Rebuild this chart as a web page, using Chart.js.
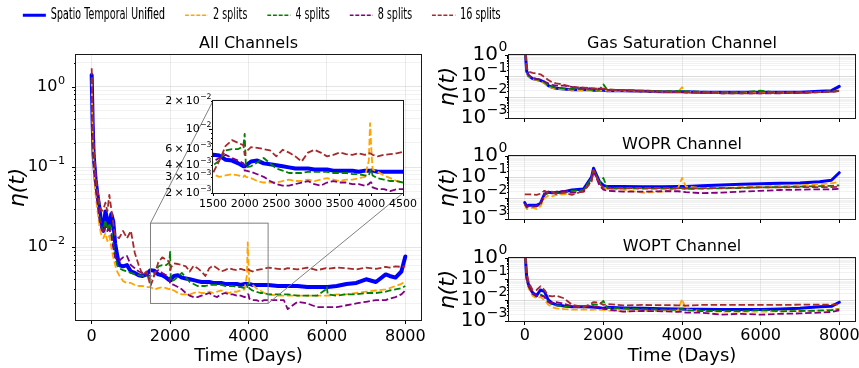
<!DOCTYPE html>
<html>
<head>
<meta charset="utf-8">
<script src="https://cdn.jsdelivr.net/npm/chart.js@4.4.1/dist/chart.umd.min.js"></script>
<style>
  html, body { margin: 0; padding: 0; background: #fff; }
  body { position: relative; width: 859px; height: 368px; overflow: hidden; }
  canvas { position: absolute; }
  #legend { transform: scaleX(0.6); transform-origin: 0 0; }
</style>
</head>
<body>
<canvas id="legend"></canvas>
<canvas id="main"></canvas>
<canvas id="gas"></canvas>
<canvas id="wopr"></canvas>
<canvas id="wopt"></canvas>
<canvas id="inset"></canvas>
<script>
// ---- データ ----
const seriesNames = ['Spatio Temporal Unified', '2 splits', '4 splits', '8 splits', '16 splits'];
const seriesColors = ['#0000ff', '#ffa500', '#008000', '#800080', '#a52a2a'];

const xTickDays = [0, 2000, 4000, 6000, 8000];
const insetXTicks = [1500, 2000, 2500, 3000, 3500, 4000, 4500];
const mainYLabels = [1, 0.1, 0.01];
const insetYLabels = [0.02, 0.01, 0.006, 0.004, 0.003, 0.002];
const channelYLabels = [1, 0.1, 0.01, 0.001];
const zoomDays = [1500, 4500];
const zoomEta = [0.002, 0.02];

// All Channels
const mainDays = [0, 25, 50, 100, 150, 200, 250, 300, 350, 400, 450, 500, 550, 600, 650, 700,
  800, 900, 1000, 1100, 1200, 1300, 1400, 1500, 1600, 1700, 1800, 1900, 1980, 2000, 2020,
  2100, 2200, 2300, 2400, 2500, 2600, 2700, 2800, 2900, 3000, 3100, 3200, 3300, 3400, 3500, 3600, 3700, 3800, 3900,
  3960, 3980, 4000, 4020, 4100, 4200, 4300, 4400, 4500, 4750, 4900, 5000, 5250, 5500, 5750, 5980, 6000, 6020,
  6250, 6500, 6750, 7000, 7250, 7500, 7600, 7750, 7900, 8000];
const allUnified = [1.4, 0.35, 0.14, 0.07, 0.044, 0.03, 0.019, 0.016, 0.028, 0.022, 0.017, 0.026, 0.021, 0.011, 0.008, 0.006,
  0.0058, 0.006, 0.005, 0.0048, 0.0045, 0.0044, 0.0046, 0.0052, 0.0051, 0.0046, 0.0045, 0.0042, 0.0039, 0.0039, 0.004,
  0.0044, 0.0045, 0.0042, 0.0041, 0.004, 0.0039, 0.0038, 0.0037, 0.0037, 0.0037, 0.0036, 0.0036, 0.0036, 0.0035, 0.0035, 0.0035, 0.0035, 0.0034, 0.0035,
  0.0035, 0.0035, 0.0035, 0.0035, 0.0034, 0.0034, 0.0034, 0.0034, 0.0034, 0.0033, 0.0033, 0.0033, 0.0033, 0.0032, 0.0032, 0.0032, 0.0032, 0.0032,
  0.0033, 0.0035, 0.0036, 0.004, 0.0037, 0.0046, 0.0044, 0.0042, 0.005, 0.0077];
const all2 = [1.2, 0.25, 0.1, 0.045, 0.028, 0.018, 0.014, 0.013, 0.015, 0.012, 0.014, 0.01, 0.0075, 0.006, 0.005, 0.0045,
  0.0038, 0.0036, 0.0036, 0.0034, 0.0033, 0.0033, 0.0032, 0.0032, 0.003, 0.0031, 0.0032, 0.0031, 0.003, 0.0031, 0.003,
  0.0029, 0.0027, 0.0026, 0.0026, 0.0026, 0.0027, 0.0028, 0.0027, 0.0027, 0.0028, 0.0027, 0.0028, 0.0029, 0.0028, 0.0027, 0.0028, 0.0028, 0.0029, 0.003,
  0.0045, 0.0115, 0.006, 0.0036, 0.0034, 0.0031, 0.0029, 0.0027, 0.0026, 0.0025, 0.0025, 0.0025, 0.0025, 0.0025, 0.0025, 0.0025, 0.0025, 0.0025,
  0.0026, 0.0026, 0.0027, 0.0028, 0.0029, 0.003, 0.0031, 0.0033, 0.0035, 0.0038];
const all4 = [1.3, 0.3, 0.12, 0.06, 0.04, 0.025, 0.018, 0.016, 0.022, 0.016, 0.02, 0.016, 0.011, 0.0075, 0.006, 0.0055,
  0.0052, 0.005, 0.0048, 0.0046, 0.0045, 0.0044, 0.0045, 0.004, 0.0045, 0.0058, 0.006, 0.006, 0.0065, 0.0088, 0.0038,
  0.0039, 0.0043, 0.0048, 0.0042, 0.0037, 0.0035, 0.0033, 0.0033, 0.0033, 0.0034, 0.0034, 0.0034, 0.0034, 0.0033, 0.0033, 0.0033, 0.0032, 0.0032, 0.0031,
  0.0031, 0.0034, 0.0036, 0.0031, 0.0029, 0.0028, 0.0027, 0.0027, 0.0026, 0.0026, 0.0026, 0.0026, 0.0025, 0.0025, 0.0025, 0.003, 0.0032, 0.0026,
  0.0025, 0.0026, 0.0026, 0.0027, 0.0027, 0.0028, 0.0029, 0.003, 0.0031, 0.0033];
const all8 = [1.3, 0.3, 0.12, 0.055, 0.035, 0.022, 0.017, 0.015, 0.018, 0.016, 0.017, 0.014, 0.01, 0.0075, 0.007, 0.0068,
  0.0075, 0.0078, 0.006, 0.0055, 0.005, 0.0048, 0.0045, 0.0044, 0.0048, 0.0052, 0.0048, 0.0045, 0.0042, 0.0035, 0.0035,
  0.0034, 0.0032, 0.003, 0.0027, 0.0025, 0.0024, 0.0024, 0.0025, 0.0026, 0.0027, 0.0025, 0.0024, 0.0026, 0.0027, 0.0026, 0.0026, 0.0025, 0.0025, 0.0024,
  0.0025, 0.0026, 0.0026, 0.0023, 0.0022, 0.0022, 0.0021, 0.0022, 0.0022, 0.0022, 0.0022, 0.0017, 0.0021, 0.002, 0.0018, 0.0018, 0.0018, 0.0018,
  0.0018, 0.0019, 0.002, 0.0021, 0.0022, 0.0022, 0.0023, 0.0024, 0.0026, 0.0029];
const all16 = [1.7, 0.5, 0.2, 0.08, 0.05, 0.035, 0.028, 0.03, 0.036, 0.028, 0.045, 0.03, 0.02, 0.014, 0.0135, 0.013,
  0.016, 0.013, 0.016, 0.0085, 0.006, 0.0045, 0.005, 0.0033, 0.0045, 0.0065, 0.0075, 0.007, 0.0066, 0.0052, 0.0056,
  0.0063, 0.0062, 0.006, 0.0058, 0.005, 0.0059, 0.0055, 0.005, 0.0044, 0.0055, 0.0059, 0.0055, 0.005, 0.0052, 0.0055, 0.0053, 0.0052, 0.0054, 0.0052,
  0.0054, 0.0054, 0.0053, 0.0052, 0.005, 0.0052, 0.0053, 0.0054, 0.0056, 0.0054, 0.0053, 0.0055, 0.0053, 0.0056, 0.0052, 0.0055, 0.0054, 0.0054,
  0.0056, 0.0055, 0.0053, 0.0056, 0.0054, 0.0057, 0.0056, 0.0058, 0.0057, 0.0058];

// チャンネル別 (Gas Saturation / WOPR / WOPT)
const chDays = [0, 50, 100, 200, 300, 400, 500, 600, 700, 800, 1000, 1200,
  1500, 1700, 1750, 1900, 2000, 2100, 2500, 3000, 3500, 3900,
  4000, 4100, 4500, 5000, 5500, 6000, 6500, 7000, 7500, 7800, 8000];

const gasUnified = [3, 0.17, 0.1, 0.075, 0.068, 0.062, 0.05, 0.035, 0.029, 0.026, 0.024, 0.022,
  0.022, 0.022, 0.021, 0.021, 0.021, 0.02, 0.02, 0.019, 0.018, 0.018,
  0.018, 0.018, 0.017, 0.017, 0.017, 0.017, 0.017, 0.017, 0.019, 0.02, 0.032];
const gas2 = [3, 0.15, 0.09, 0.07, 0.065, 0.058, 0.045, 0.032, 0.027, 0.025, 0.023, 0.022,
  0.021, 0.021, 0.021, 0.02, 0.02, 0.02, 0.019, 0.018, 0.018, 0.018,
  0.029, 0.018, 0.017, 0.016, 0.016, 0.016, 0.016, 0.016, 0.017, 0.018, 0.02];
const gas4 = [3, 0.16, 0.1, 0.078, 0.07, 0.065, 0.05, 0.035, 0.03, 0.027, 0.025, 0.024,
  0.023, 0.022, 0.022, 0.022, 0.04, 0.022, 0.021, 0.02, 0.019, 0.019,
  0.02, 0.019, 0.018, 0.017, 0.017, 0.02, 0.016, 0.016, 0.017, 0.018, 0.02];
const gas8 = [3, 0.18, 0.11, 0.08, 0.072, 0.068, 0.055, 0.045, 0.038, 0.035, 0.035, 0.03,
  0.027, 0.026, 0.025, 0.025, 0.024, 0.022, 0.02, 0.019, 0.018, 0.017,
  0.017, 0.016, 0.016, 0.015, 0.015, 0.015, 0.015, 0.016, 0.017, 0.018, 0.019];
const gas16 = [3, 0.25, 0.16, 0.14, 0.13, 0.12, 0.09, 0.065, 0.05, 0.045, 0.038, 0.03,
  0.028, 0.026, 0.026, 0.025, 0.025, 0.023, 0.021, 0.019, 0.018, 0.017,
  0.017, 0.017, 0.016, 0.015, 0.015, 0.015, 0.016, 0.016, 0.017, 0.018, 0.019];

const woprUnified = [0.006, 0.004, 0.0045, 0.0045, 0.0045, 0.0055, 0.015, 0.019, 0.018, 0.018, 0.02, 0.024,
  0.027, 0.1, 0.26, 0.06, 0.04, 0.035, 0.035, 0.034, 0.034, 0.035,
  0.035, 0.035, 0.038, 0.042, 0.045, 0.048, 0.05, 0.052, 0.06, 0.07, 0.16];
const wopr2 = [0.005, 0.003, 0.003, 0.0035, 0.003, 0.004, 0.01, 0.013, 0.012, 0.014, 0.015, 0.018,
  0.02, 0.08, 0.2, 0.05, 0.03, 0.028, 0.025, 0.018, 0.02, 0.03,
  0.09, 0.035, 0.03, 0.03, 0.032, 0.035, 0.038, 0.04, 0.045, 0.05, 0.06];
const wopr4 = [0.005, 0.0035, 0.004, 0.004, 0.004, 0.005, 0.014, 0.018, 0.017, 0.017, 0.019, 0.022,
  0.024, 0.09, 0.22, 0.05, 0.09, 0.03, 0.029, 0.028, 0.028, 0.028,
  0.03, 0.027, 0.028, 0.029, 0.03, 0.032, 0.033, 0.035, 0.037, 0.038, 0.04];
const wopr8 = [0.0055, 0.004, 0.0042, 0.004, 0.004, 0.005, 0.016, 0.02, 0.017, 0.02, 0.022, 0.018,
  0.02, 0.07, 0.2, 0.04, 0.025, 0.022, 0.02, 0.02, 0.021, 0.021,
  0.02, 0.019, 0.017, 0.018, 0.02, 0.022, 0.024, 0.025, 0.026, 0.026, 0.027];
const wopr16 = [0.015, 0.015, 0.015, 0.015, 0.014, 0.016, 0.022, 0.018, 0.02, 0.015, 0.018, 0.014,
  0.022, 0.06, 0.22, 0.05, 0.03, 0.028, 0.03, 0.03, 0.03, 0.029,
  0.028, 0.028, 0.029, 0.03, 0.031, 0.032, 0.032, 0.033, 0.033, 0.033, 0.034];

const woptUnified = [3, 0.12, 0.05, 0.022, 0.016, 0.03, 0.026, 0.01, 0.007, 0.006, 0.0052, 0.0048,
  0.0048, 0.0046, 0.0045, 0.0043, 0.004, 0.0045, 0.0042, 0.004, 0.0038, 0.0037,
  0.0037, 0.0036, 0.0036, 0.0035, 0.0035, 0.0035, 0.0037, 0.004, 0.0048, 0.005, 0.0078];
const wopt2 = [3, 0.09, 0.035, 0.016, 0.012, 0.014, 0.01, 0.006, 0.0045, 0.004, 0.0037, 0.0035,
  0.0035, 0.0034, 0.0035, 0.0034, 0.0034, 0.0031, 0.0029, 0.003, 0.003, 0.0032,
  0.011, 0.0036, 0.003, 0.0028, 0.0028, 0.0028, 0.0029, 0.003, 0.0032, 0.0035, 0.0038];
const wopt4 = [3, 0.11, 0.045, 0.02, 0.015, 0.018, 0.015, 0.008, 0.006, 0.0055, 0.005, 0.0048,
  0.0045, 0.006, 0.0062, 0.006, 0.009, 0.0042, 0.004, 0.0036, 0.0035, 0.0034,
  0.0038, 0.0032, 0.003, 0.003, 0.0029, 0.0034, 0.0029, 0.003, 0.0031, 0.0033, 0.0036];
const wopt8 = [3, 0.11, 0.045, 0.02, 0.015, 0.017, 0.014, 0.008, 0.0072, 0.008, 0.0065, 0.0052,
  0.0047, 0.0055, 0.005, 0.0047, 0.0038, 0.0036, 0.0028, 0.003, 0.0029, 0.0027,
  0.0028, 0.0025, 0.0025, 0.002, 0.0022, 0.002, 0.0022, 0.0023, 0.0025, 0.0027, 0.0032];
const wopt16 = [3, 0.2, 0.07, 0.03, 0.03, 0.045, 0.03, 0.016, 0.015, 0.016, 0.012, 0.006,
  0.0045, 0.007, 0.008, 0.0075, 0.0058, 0.0065, 0.0055, 0.0058, 0.0057, 0.0056,
  0.0056, 0.0054, 0.0058, 0.0058, 0.0059, 0.0058, 0.0058, 0.006, 0.006, 0.006, 0.0062];

// ---- 配置 (ページ上の位置: canvas [left, top, width, height], plot [left, top, right, bottom]) ----
const FONT = "'DejaVu Sans', sans-serif";
Chart.defaults.font.family = FONT;
Chart.defaults.color = '#000';
Chart.defaults.animation = false;

function logSteps(min, max) {
  const out = [];
  for (let e = Math.floor(Math.log10(min)) - 1; e <= Math.ceil(Math.log10(max)); e++) {
    for (let m = 1; m <= 9; m++) {
      const v = +(m * Math.pow(10, e)).toPrecision(6);
      if (v >= min * 0.9999 && v <= max * 1.0001) out.push(v);
    }
  }
  return out;
}
function isDecade(v) {
  const e = Math.log10(v);
  return Math.abs(e - Math.round(e)) < 1e-6;
}

// 対数軸の目盛り (10^n 表記) を描く
const logAxisPlugin = {
  id: 'logAxis',
  afterDraw(chart, args, o) {
    const {ctx, chartArea} = chart;
    const ys = chart.scales.y;
    ctx.save();
    ctx.strokeStyle = '#000';
    ctx.lineWidth = 1;
    logSteps(ys.min, ys.max).forEach(v => {
      const py = Math.round(ys.getPixelForValue(v)) + 0.5;
      const len = isDecade(v) ? 4 : 2;
      ctx.beginPath();
      ctx.moveTo(chartArea.left, py);
      ctx.lineTo(chartArea.left - len, py);
      ctx.stroke();
    });
    ctx.fillStyle = '#000';
    ctx.textBaseline = 'middle';
    ctx.textAlign = 'right';
    const base = o.size, sup = o.size * 0.7;
    o.labels.forEach(v => {
      const e = Math.floor(Math.log10(v) + 1e-9);
      const m = Math.round(v / Math.pow(10, e));
      const py = ys.getPixelForValue(v);
      let x = chartArea.left - o.gap;
      const expText = (e < 0 ? '\u2212' : '') + Math.abs(e);
      ctx.font = sup + 'px ' + FONT;
      ctx.fillText(expText, x, py - base * 0.375);
      x -= ctx.measureText(expText).width + base * 0.03;
      ctx.font = base + 'px ' + FONT;
      const txt = (m === 1 ? '' : m + '\u2009\u00d7\u2009') + '10';
      ctx.fillText(txt, x, py);
    });
    ctx.restore();
  }
};

// 枠線
const framePlugin = {
  id: 'frameBox',
  beforeDraw(chart, args, o) {
    if (!o.fill) return;
    const a = chart.chartArea;
    chart.ctx.save();
    chart.ctx.fillStyle = o.fill;
    chart.ctx.fillRect(a.left, a.top, a.right - a.left, a.bottom - a.top);
    chart.ctx.restore();
  },
  afterDraw(chart) {
    const a = chart.chartArea, ctx = chart.ctx;
    ctx.save();
    ctx.strokeStyle = '#1a1a1a';
    ctx.lineWidth = 1;
    ctx.strokeRect(Math.round(a.left) - 0.5, Math.round(a.top) - 0.5,
      Math.round(a.right - a.left) + 1, Math.round(a.bottom - a.top) + 1);
    ctx.restore();
  }
};

let insetChart = null;

// ズーム範囲の枠と引き出し線
const zoomMarkPlugin = {
  id: 'zoomMark',
  afterDatasetsDraw(chart) {
    if (!insetChart) return;
    const {ctx} = chart, xs = chart.scales.x, ys = chart.scales.y;
    const x0 = xs.getPixelForValue(zoomDays[0]), x1 = xs.getPixelForValue(zoomDays[1]);
    const yTop = ys.getPixelForValue(zoomEta[1]), yBot = ys.getPixelForValue(zoomEta[0]);
    const dx = insetChart.canvas.offsetLeft - chart.canvas.offsetLeft;
    const dy = insetChart.canvas.offsetTop - chart.canvas.offsetTop;
    const a = insetChart.chartArea;
    ctx.save();
    ctx.strokeStyle = '#808080';
    ctx.lineWidth = 1;
    ctx.strokeRect(x0, yTop, x1 - x0, yBot - yTop);
    ctx.beginPath();
    ctx.moveTo(x0, yTop);
    ctx.lineTo(a.left + dx, a.top + dy);
    ctx.moveTo(x1, yBot);
    ctx.lineTo(a.right + dx, a.bottom + dy);
    ctx.stroke();
    ctx.restore();
  }
};

function makeDatasets(days, seriesList, blueWidth) {
  return seriesList.map((vals, i) => ({
    label: seriesNames[i],
    data: days.map((d, k) => ({x: d, y: vals[k]})),
    borderColor: seriesColors[i],
    backgroundColor: seriesColors[i],
    borderWidth: i === 0 ? blueWidth : 1.8,
    borderDash: i === 0 ? [] : [6.5, 2.8],
    borderJoinStyle: 'round',
    borderCapStyle: i === 0 ? 'round' : 'butt',
    pointRadius: 0,
    tension: 0,
    fill: false,
    order: seriesList.length - i
  }));
}

function buildPanel(id, cfg, extraPlugins) {
  const cv = document.getElementById(id);
  const [cx, cy, cw, ch] = cfg.canvas;
  const [pl, pt, pr, pb] = cfg.plot;
  cv.width = cw; cv.height = ch;
  cv.style.left = cx + 'px'; cv.style.top = cy + 'px';
  const yAxisW = pl - cx, xAxisH = cy + ch - pb, padRight = cx + cw - pr, topSpace = pt - cy;
  const lh = 16 * 1.2;
  const tp = cfg.title ? (cfg.titleY - cy) - lh / 2 : 0;

  return new Chart(cv, {
    type: 'line',
    data: {datasets: makeDatasets(cfg.days, cfg.series, cfg.blueWidth)},
    options: {
      responsive: false,
      animation: false,
      events: [],
      layout: {padding: {left: 0, right: padRight, top: cfg.title ? 0 : topSpace, bottom: 0}},
      plugins: {
        legend: {display: false},
        tooltip: {enabled: false},
        title: cfg.title ? {
          display: true, text: cfg.title, fullSize: false, color: '#000',
          font: {size: 16, weight: 'normal'},
          padding: {top: tp, bottom: topSpace - lh - tp}
        } : {display: false},
        logAxis: {labels: cfg.yLabels, size: cfg.labelSize, gap: cfg.labelGap},
        frameBox: {fill: cfg.whiteBg ? '#ffffff' : null}
      },
      scales: {
        x: {
          type: 'linear', min: cfg.xRange[0], max: cfg.xRange[1],
          afterBuildTicks: s => { s.ticks = cfg.xTicks.map(v => ({value: v})); },
          afterFit: s => { s.height = xAxisH; s.paddingLeft = 0; s.paddingRight = 0; },
          border: {display: false},
          grid: {
            color: cfg.grid ? 'rgba(0,0,0,0.08)' : 'rgba(0,0,0,0)',
            tickColor: '#000', tickLength: cfg.tickLen, drawTicks: true
          },
          ticks: {
            display: cfg.xLabels, font: {size: cfg.tickSize}, padding: cfg.tickPad,
            maxRotation: 0, autoSkip: false, callback: v => String(v)
          },
          title: cfg.xTitle ? {
            display: true, text: 'Time (Days)', font: {size: 18},
            padding: {top: 0, bottom: cfg.xTitlePad}
          } : {display: false}
        },
        y: {
          type: 'logarithmic', min: cfg.yRange[0], max: cfg.yRange[1],
          afterBuildTicks: s => { s.ticks = logSteps(cfg.yRange[0], cfg.yRange[1]).map(v => ({value: v})); },
          afterFit: s => { s.width = yAxisW; s.paddingTop = 0; s.paddingBottom = 0; },
          border: {display: false},
          grid: {
            drawTicks: false,
            color: c => !cfg.grid ? 'rgba(0,0,0,0)' :
              (c.tick && isDecade(c.tick.value) ? 'rgba(0,0,0,0.10)' : 'rgba(0,0,0,0.05)')
          },
          ticks: {display: false},
          title: cfg.yTitle ? {
            display: true, text: '\u03b7(t)', font: {size: 22, style: 'italic'},
            padding: {top: 4.8, bottom: 0}
          } : {display: false}
        }
      }
    },
    plugins: [logAxisPlugin, framePlugin].concat(extraPlugins || [])
  });
}

const mainSeries = [allUnified, all2, all4, all8, all16];

insetChart = buildPanel('inset', {
  canvas: [160, 86, 270, 125], plot: [213, 101, 403, 193],
  days: mainDays, series: mainSeries, blueWidth: 4,
  xRange: [1500, 4500], xTicks: insetXTicks, xLabels: true, tickSize: 11, tickLen: 3, tickPad: 1.7,
  yRange: [0.002, 0.02], yLabels: insetYLabels, labelSize: 11, labelGap: 1.5,
  grid: false, whiteBg: true
});

buildPanel('main', {
  canvas: [0, 30, 430, 338], plot: [76, 55, 421, 320], title: 'All Channels', titleY: 44,
  days: mainDays, series: mainSeries, blueWidth: 4,
  xRange: [-400, 8400], xTicks: xTickDays, xLabels: true, tickSize: 16, tickLen: 4, tickPad: 3,
  xTitle: true, xTitlePad: 1.2,
  yRange: [1.245e-3, 2.48], yLabels: mainYLabels, labelSize: 16, labelGap: 11,
  yTitle: true, grid: true
}, [zoomMarkPlugin]);

buildPanel('gas', {
  canvas: [430, 30, 429, 100], plot: [509, 55, 855, 118], title: 'Gas Saturation Channel', titleY: 44,
  days: chDays, series: [gasUnified, gas2, gas4, gas8, gas16], blueWidth: 3,
  xRange: [-400, 8400], xTicks: xTickDays, xLabels: false, tickSize: 16, tickLen: 4, tickPad: 2,
  yRange: [0.001, 1], yLabels: channelYLabels, labelSize: 20, labelGap: 1.5,
  yTitle: true, grid: true
});

buildPanel('wopr', {
  canvas: [430, 130, 429, 100], plot: [509, 156, 855, 219], title: 'WOPR Channel', titleY: 145,
  days: chDays, series: [woprUnified, wopr2, wopr4, wopr8, wopr16], blueWidth: 3,
  xRange: [-400, 8400], xTicks: xTickDays, xLabels: false, tickSize: 16, tickLen: 4, tickPad: 2,
  yRange: [0.001, 1], yLabels: channelYLabels, labelSize: 20, labelGap: 1.5,
  yTitle: true, grid: true
});

buildPanel('wopt', {
  canvas: [430, 232, 429, 136], plot: [509, 258, 855, 321], title: 'WOPT Channel', titleY: 246.7,
  days: chDays, series: [woptUnified, wopt2, wopt4, wopt8, wopt16], blueWidth: 3,
  xRange: [-400, 8400], xTicks: xTickDays, xLabels: true, tickSize: 16, tickLen: 4, tickPad: 1,
  xTitle: true, xTitlePad: 0.8,
  yRange: [0.001, 1], yLabels: channelYLabels, labelSize: 20, labelGap: 1.5,
  yTitle: true, grid: true
});

// ---- 凡例 (横方向に縮めて表示) ----
const legendCanvas = document.getElementById('legend');
legendCanvas.width = 872;
legendCanvas.height = 200;
legendCanvas.style.left = '0px';
legendCanvas.style.top = '-26px';
new Chart(legendCanvas, {
  type: 'line',
  data: {
    datasets: seriesNames.map((n, i) => ({
      label: n, data: [], borderColor: seriesColors[i],
      borderWidth: i === 0 ? 3 : 1.6, borderDash: i === 0 ? [] : [6.5, 3]
    }))
  },
  options: {
    responsive: false,
    animation: false,
    events: [],
    layout: {padding: 0},
    scales: {x: {display: false}, y: {display: false}},
    plugins: {
      tooltip: {enabled: false},
      legend: {
        display: true, position: 'top', align: 'center',
        labels: {
          font: {size: 16}, color: '#000', usePointStyle: true, pointStyleWidth: 38.7, padding: 33.3,
          generateLabels: chart => chart.data.datasets.map((d, i) => ({
            text: d.label, strokeStyle: d.borderColor, fillStyle: d.borderColor,
            lineWidth: d.borderWidth, lineDash: d.borderDash, pointStyle: 'line',
            datasetIndex: i, hidden: false
          }))
        }
      }
    }
  }
});
</script>
</body>
</html>
